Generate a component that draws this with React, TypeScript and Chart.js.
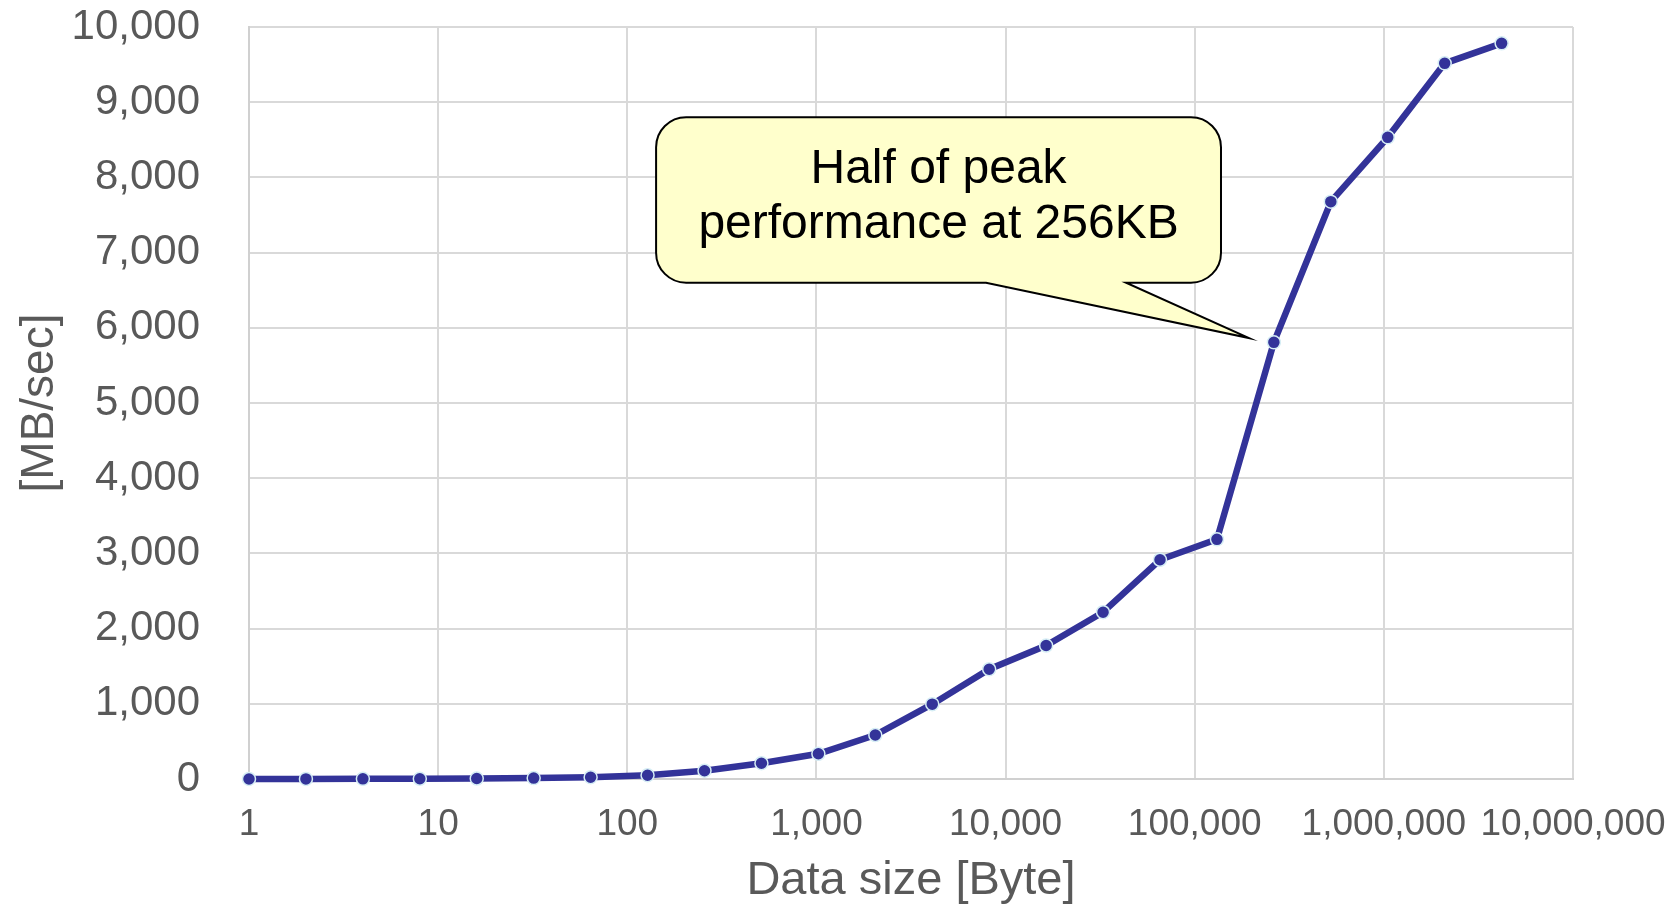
import React, { useEffect, useRef } from "react";
import { Chart, registerables } from "chart.js";

Chart.register(...registerables);

// Data size [Byte] (powers of two from 1 B to 4 MB)
const dataSizes: number[] = [
  1, 2, 4, 8, 16, 32, 64, 128, 256, 512, 1024, 2048, 4096, 8192, 16384, 32768,
  65536, 131072, 262144, 524288, 1048576, 2097152, 4194304,
];
// Throughput [MB/sec]
const throughput: number[] = [
  0.5, 1, 2, 3, 6, 12, 24, 50, 110, 210, 335, 585, 995, 1460, 1775, 2218,
  2915, 3187, 5807, 7677, 8533, 9517, 9783,
];

const xTickValues: number[] = [1, 10, 100, 1000, 10000, 100000, 1000000, 10000000];
const yMin = 0;
const yMax = 10000;
const yStep = 1000;

const xTitle = "Data size [Byte]";
const yTitle = "[MB/sec]";
const calloutLines: string[] = ["Half of peak", "performance at 256KB"];
// callout geometry in data space (x in bytes, y in MB/sec)
const calloutBox = { x0: 142, x1: 137700, yTop: 8800, yBottom: 6600 };
const calloutPointer = { baseX0: 7880, baseX1: 43350, tipX: 193700, tipY: 5864 };

const FONT = "'Liberation Sans', Arial, Helvetica, sans-serif";
const GREY = "#595959";

const calloutPlugin = {
  id: "callout",
  afterDatasetsDraw(chart: any) {
    const { ctx, scales } = chart;
    const xs = scales.x;
    const ys = scales.y;
    const L = xs.getPixelForValue(calloutBox.x0);
    const R = xs.getPixelForValue(calloutBox.x1);
    const T = ys.getPixelForValue(calloutBox.yTop);
    const B = ys.getPixelForValue(calloutBox.yBottom);
    const pb0 = xs.getPixelForValue(calloutPointer.baseX0);
    const pb1 = xs.getPixelForValue(calloutPointer.baseX1);
    const tx = xs.getPixelForValue(calloutPointer.tipX);
    const ty = ys.getPixelForValue(calloutPointer.tipY);
    const r = 30;
    ctx.save();
    ctx.beginPath();
    ctx.moveTo(L + r, T);
    ctx.lineTo(R - r, T);
    ctx.arcTo(R, T, R, T + r, r);
    ctx.lineTo(R, B - r);
    ctx.arcTo(R, B, R - r, B, r);
    ctx.lineTo(pb1, B);
    ctx.lineTo(tx, ty);
    ctx.lineTo(pb0, B);
    ctx.lineTo(L + r, B);
    ctx.arcTo(L, B, L, B - r, r);
    ctx.lineTo(L, T + r);
    ctx.arcTo(L, T, L + r, T, r);
    ctx.closePath();
    ctx.fillStyle = "#FFFFCC";
    ctx.fill();
    ctx.lineWidth = 2;
    ctx.strokeStyle = "#000000";
    ctx.lineJoin = "miter";
    ctx.stroke();
    ctx.fillStyle = "#000000";
    ctx.font = `48px ${FONT}`;
    ctx.textAlign = "center";
    ctx.textBaseline = "alphabetic";
    const cx = (L + R) / 2;
    calloutLines.forEach((line, i) => {
      ctx.fillText(line, cx, T + 66 + i * 55);
    });
    ctx.restore();
  },
};

export default function App() {
  const canvasRef = useRef<HTMLCanvasElement | null>(null);

  useEffect(() => {
    if (!canvasRef.current) return;
    const points = dataSizes.map((s, i) => ({ x: s, y: throughput[i] }));
    const chart = new Chart(canvasRef.current, {
      type: "line",
      data: {
        datasets: [
          {
            data: points,
            borderColor: "#333399",
            backgroundColor: "#333399",
            borderWidth: 6.5,
            pointRadius: 6.5,
            pointBackgroundColor: "#333399",
            pointBorderColor: "#d6eef5",
            pointBorderWidth: 1.5,
            tension: 0,
            fill: false,
            clip: false,
          },
        ],
      },
      options: {
        responsive: false,
        animation: false,
        events: [],
        layout: { padding: { top: 27, right: 104, left: 0, bottom: 0 } },
        plugins: {
          legend: { display: false },
          tooltip: { enabled: false },
          title: { display: false },
        },
        scales: {
          x: {
            type: "logarithmic",
            min: xTickValues[0],
            max: xTickValues[xTickValues.length - 1],
            afterBuildTicks: (scale: any) => {
              scale.ticks = xTickValues.map((v) => ({ value: v }));
            },
            afterFit: (scale: any) => {
              scale.height = 128;
            },
            grid: {
              color: "#d9d9d9",
              lineWidth: 2,
              drawTicks: true,
              tickLength: 24,
              tickColor: "rgba(0,0,0,0)",
            },
            border: { color: "#d0d0d0", width: 2 },
            ticks: {
              color: GREY,
              font: { family: FONT, size: 37 },
              padding: 0,
              autoSkip: false,
              maxRotation: 0,
              callback: (v: any) => Number(v).toLocaleString("en-US"),
            },
            title: {
              display: true,
              text: xTitle,
              color: GREY,
              font: { family: FONT, size: 47, lineHeight: 1 },
              padding: { top: 0, bottom: 2 },
            },
          },
          y: {
            min: yMin,
            max: yMax,
            afterFit: (scale: any) => {
              scale.width = 249;
            },
            grid: {
              color: "#d9d9d9",
              lineWidth: 2,
              drawTicks: true,
              tickLength: 49,
              tickColor: "rgba(0,0,0,0)",
            },
            border: { color: "#d0d0d0", width: 2 },
            ticks: {
              stepSize: yStep,
              color: GREY,
              font: { family: FONT, size: 42 },
              padding: 0,
              callback: (v: any) => Number(v).toLocaleString("en-US"),
            },
            title: {
              display: true,
              text: yTitle,
              color: GREY,
              font: { family: FONT, size: 46, lineHeight: 1 },
              padding: { top: 17, bottom: 0 },
            },
          },
        },
      },
      plugins: [calloutPlugin],
    });
    return () => chart.destroy();
  }, []);

  return (
    <div style={{ position: "absolute", left: 0, top: 0, width: 1677, height: 907, background: "#ffffff" }}>
      <canvas ref={canvasRef} width={1677} height={907} />
    </div>
  );
}
